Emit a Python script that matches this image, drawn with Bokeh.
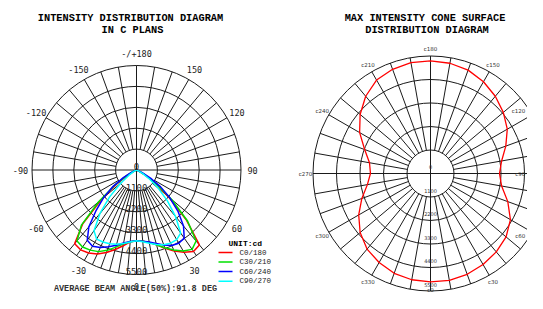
import numpy as np
from bokeh.plotting import figure
from bokeh.layouts import row
from bokeh.models import Range1d
from bokeh.core.properties import value
from bokeh.embed import file_html
from bokeh.resources import INLINE

# ------------------------------------------------------------------ data
RING_VALUES = [1100, 2200, 3300, 4400, 5500]
RING_LABELS = ["0", "1100", "2200", "3300", "4400", "5500"]
RING_LABEL_VALUES = [0, 1100, 2200, 3300, 4400, 5500]

GAMMA = [0, 5, 10, 15, 20, 25, 30, 35, 40, 45, 50, 55, 60, 65, 70, 75, 80, 85, 90]
C0 = [3720, 3760, 3870, 4080, 4380, 4700, 5000, 5230, 5150, 3700, 2200, 1150, 450, 120, 30, 0, 0, 0, 0]
C180 = [3720, 3800, 4050, 4330, 4620, 4880, 5040, 5130, 5060, 4000, 2400, 1200, 450, 110, 20, 0, 0, 0, 0]
C30 = [3720, 3770, 3880, 4080, 4350, 4650, 4920, 5100, 4880, 3800, 2400, 1300, 550, 160, 30, 0, 0, 0, 0]
C210 = [3720, 3790, 3950, 4200, 4500, 4740, 4870, 4950, 4870, 4100, 2600, 1400, 600, 180, 40, 0, 0, 0, 0]
C60 = [3720, 3760, 3850, 4000, 4200, 4380, 4450, 4380, 3850, 3100, 2300, 1550, 850, 330, 70, 0, 0, 0, 0]
C240 = [3720, 3780, 3900, 4100, 4300, 4500, 4630, 4520, 3900, 3000, 2250, 1500, 800, 300, 60, 0, 0, 0, 0]
C90 = [3720, 3790, 3920, 4060, 4180, 4250, 4230, 4050, 3200, 2300, 1500, 850, 380, 110, 20, 0, 0, 0, 0]
C270 = [3720, 3800, 3930, 4050, 4130, 4180, 4200, 3900, 3000, 2000, 1100, 500, 200, 50, 0, 0, 0, 0, 0]

PLANE_NAMES = ["C0/180", "C30/210", "C60/240", "C90/270"]
PLANE_COLORS = ["#ff0000", "#00e000", "#0000ff", "#00ffff"]

ANGLE_TICKS = [-180, -150, -120, -90, -60, -30, 0, 30, 60, 90, 120, 150]
ANGLE_TICK_LABELS = ["-/+180", "-150", "-120", "-90", "-60", "-30", "0", "30", "60", "90", "120", "150"]

CONE_C = [0, 10, 20, 30, 40, 50, 60, 70, 80, 90, 100, 110, 120, 130, 140, 150, 160, 170,
          180, 190, 200, 210, 220, 230, 240, 250, 260, 270, 280, 290, 300, 310, 320, 330, 340, 350]
CONE_I = [5070, 5075, 5020, 4920, 4790, 4620, 4320, 3850, 3380, 3230, 3380, 3750, 4150, 4450, 4720, 4960, 5150, 5240,
          5270, 5270, 5190, 5050, 4720, 4300, 3830, 3280, 2900, 2810, 3000, 3420, 3880, 4300, 4620, 4810, 4970, 5050]
CONE_TICKS = [0, 30, 60, 90, 120, 150, 180, 210, 240, 270, 300, 330]
CONE_TICK_LABELS = ["c0", "c30", "c60", "c90", "c120", "c150", "c180", "c210", "c240", "c270", "c300", "c330"]

LEFT_TITLE = ["INTENSITY DISTRIBUTION DIAGRAM", "IN C PLANS"]
RIGHT_TITLE = ["MAX INTENSITY CONE SURFACE", "DISTRIBUTION DIAGRAM"]
BEAM_TEXT = "AVERAGE BEAM ANGLE(50%):91.8 DEG"
UNIT_TEXT = "UNIT:cd"

# ------------------------------------------------------------------ layout (picture px)
RMAX = 5500.0
SHIFT = 12.0
L_CX, L_CY, L_R = 136.0, 181.5 - SHIFT, 104.5
R_CX, R_CY, R_R = 430.0, 185.0 - SHIFT, 117.5
X0, Y0, X1, Y1 = 0, 0, 527, 293
SPLIT = 284

MONO = value("Liberation Mono")
SMONO = value("DejaVu Sans Mono")
SANS = value("DejaVu Sans")
GRID = "#1a1a1a"


def pol(r, deg):
    a = np.radians(np.asarray(deg, dtype=float))
    r = np.asarray(r, dtype=float)
    return r * np.sin(a), -r * np.cos(a)


def make_fig(cx, cy, rpx, xa, xb):
    k = RMAX / rpx
    p = figure(width=xb - xa, height=Y1 - Y0,
               x_range=Range1d((xa - cx) * k, (xb - cx) * k),
               y_range=Range1d((cy - Y1) * k, (cy - Y0) * k),
               min_border=0, toolbar_location=None, output_backend="svg",
               x_axis_type=None, y_axis_type=None)
    p.grid.visible = False
    p.outline_line_color = None
    p.background_fill_color = "white"
    p.border_fill_color = "white"
    return p, k


def grid(p, spoke_angles):
    p.circle(x=[0] * len(RING_VALUES), y=[0] * len(RING_VALUES), radius=RING_VALUES,
             fill_color=None, line_color=GRID, line_width=1)
    x0, y0 = pol([RING_VALUES[0]] * len(spoke_angles), spoke_angles)
    x1, y1 = pol([RING_VALUES[-1]] * len(spoke_angles), spoke_angles)
    p.segment(x0=x0, y0=y0, x1=x1, y1=y1, line_color=GRID, line_width=1)
    m = RING_VALUES[-1]
    p.segment(x0=[-m, 0], y0=[0, -m], x1=[m, 0], y1=[0, m], line_color=GRID, line_width=1)


def page_to_data(xp, yp, cx, cy, k):
    return (xp - cx) * k, (cy - yp) * k


def put_text(p, xp, yp, cx, cy, k, txt, font, size, style="normal", align="center", color="#000000"):
    tx, ty = page_to_data(xp, yp, cx, cy, k)
    p.text(x=[tx], y=[ty], text=[txt], text_font=font, text_font_size=size,
           text_font_style=style, text_align=align, text_baseline="middle", text_color=color)


# ------------------------------------------------------------------ left chart
p1, k1 = make_fig(L_CX, L_CY, L_R, X0, SPLIT)

left_spokes = []
for a in list(range(5, 40, 5)) + list(range(40, 90, 10)) + list(range(100, 180, 10)):
    left_spokes += [a, -a]
grid(p1, left_spokes)

pairs = [(C0, C180), (C30, C210), (C60, C240), (C90, C270)]
g = np.array(GAMMA, dtype=float)
for (right, left), col in zip(pairs, PLANE_COLORS):
    xl, yl = pol(left[::-1], -g[::-1])
    xr, yr = pol(right[1:], g[1:])
    p1.line(np.concatenate([xl, xr]), np.concatenate([yl, yr]), line_color=col, line_width=1.5)

p1.text(x=[0] * len(RING_LABEL_VALUES),
        y=[-v + 3.5 * k1 for v in RING_LABEL_VALUES],
        text=RING_LABELS, text_font=SMONO, text_font_size="9px",
        text_align="center", text_baseline="middle", text_color="#222222")

ax, ay = pol([116 * k1] * len(ANGLE_TICKS), ANGLE_TICKS)
p1.text(x=ax, y=ay, text=ANGLE_TICK_LABELS, text_font=SMONO, text_font_size="8.5px",
        text_align="center", text_baseline="middle", text_color="#222222")

put_text(p1, 130, 17, L_CX, L_CY, k1, LEFT_TITLE[0], MONO, "10.3px", "bold")
put_text(p1, 132, 29.5, L_CX, L_CY, k1, LEFT_TITLE[1], MONO, "10.3px", "bold")
put_text(p1, 135, 300.7 - SHIFT, L_CX, L_CY, k1, BEAM_TEXT, MONO, "8.5px", "bold", color="#333333")

put_text(p1, 228, 254.5 - SHIFT, L_CX, L_CY, k1, UNIT_TEXT, MONO, "8px", "bold", align="left")
for i, (name, col) in enumerate(zip(PLANE_NAMES, PLANE_COLORS)):
    yp = 264 - SHIFT + i * 9.55
    lx0, ly = page_to_data(218, yp, L_CX, L_CY, k1)
    lx1, _ = page_to_data(232, yp, L_CX, L_CY, k1)
    p1.segment(x0=[lx0], y0=[ly], x1=[lx1], y1=[ly], line_color=col, line_width=1.5)
    put_text(p1, 239, yp, L_CX, L_CY, k1, name, MONO, "7.5px", align="left", color="#222222")

# ------------------------------------------------------------------ right chart
p2, k2 = make_fig(R_CX, R_CY, R_R, SPLIT, X1)
right_spokes = [a for a in range(10, 360, 10) if a % 90 != 0]
grid(p2, right_spokes)

cx_, cy_ = pol(CONE_I + CONE_I[:1], CONE_C + CONE_C[:1])
p2.line(cx_, cy_, line_color="#ff0000", line_width=1.3)

p2.text(x=[0] * len(RING_LABEL_VALUES),
        y=[-v + 6.5 * k2 for v in RING_LABEL_VALUES],
        text=RING_LABELS, text_font=SANS, text_font_size="5px",
        text_align="center", text_baseline="middle", text_color="#333333")

# C-angle labels; those that would fall past the picture edge are pulled inside it
bx, by = pol([125.0] * len(CONE_TICKS), CONE_TICKS)
lab_x, lab_y = [], []
for lab, dx, dy in zip(CONE_TICK_LABELS, bx, by):
    xp = R_CX + dx
    yp = R_CY - dy
    half_w = len(lab) * 1.75
    xp = min(xp, X1 - 2 - half_w)
    yp = min(yp, Y1 - 4)
    tx, ty = page_to_data(xp, yp, R_CX, R_CY, k2)
    lab_x.append(tx)
    lab_y.append(ty)
p2.text(x=lab_x, y=lab_y, text=CONE_TICK_LABELS, text_font=SANS, text_font_size="5.5px",
        text_align="center", text_baseline="middle", text_color="#333333")

put_text(p2, 424.5, 17, R_CX, R_CY, k2, RIGHT_TITLE[0], MONO, "10.3px", "bold")
put_text(p2, 426.5, 29.5, R_CX, R_CY, k2, RIGHT_TITLE[1], MONO, "10.3px", "bold")

layout = row(p1, p2)
open("out.html", "w").write(file_html(layout, INLINE))
